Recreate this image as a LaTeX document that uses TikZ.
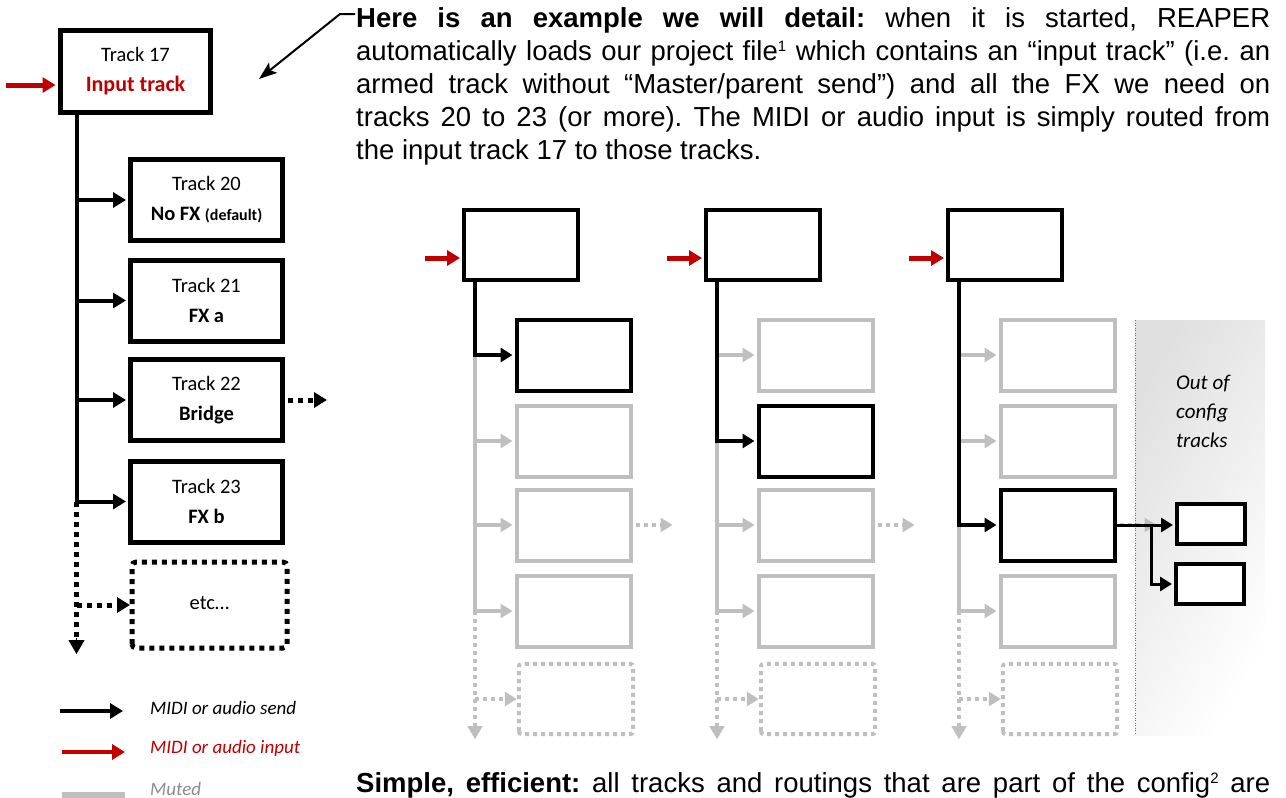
\documentclass[tikz,border=0pt]{standalone}
\usepackage{fontspec}
\setmainfont{Liberation Sans}
\newfontfamily\carl{Carlito}
\usetikzlibrary{arrows.meta}
\definecolor{mygray}{HTML}{BFBFBF}
\definecolor{myred}{HTML}{C00000}
\tikzset{
  bigbox/.style={draw=black, line width=5pt, minimum width=150pt, minimum height=82pt, inner sep=0pt, align=center, fill=white,
    font=\carl\fontsize{20.5}{32}\selectfont},
  cbox/.style={draw=#1, line width=4pt, minimum width=114pt, minimum height=71pt, inner sep=0pt, fill=white},
  sbox/.style={draw=black, line width=4pt, minimum width=68pt, minimum height=40pt, inner sep=0pt, fill=white},
  tipbig/.style={-{Triangle[length=13pt,width=15pt]}},
  tipmid/.style={-{Triangle[length=12pt,width=14pt]}},
  sendline/.style={line width=4pt, tipbig},
  dots/.style={line width=5pt, dash pattern=on 5pt off 5pt},
  gdots/.style={line width=4pt, dash pattern=on 4pt off 4pt, mygray},
  legtext/.style={anchor=west, inner sep=0pt, font=\carl\itshape\fontsize{19}{22}\selectfont},
}
\begin{document}
\frenchspacing
\begin{tikzpicture}[x=1pt,y=-1pt]
\useasboundingbox (0,0) rectangle (1286,798);

% ---------- paragraph top ----------
\node[anchor=base west, inner sep=0pt] (para) at (356,27) {\parbox[t]{914pt}{\frenchspacing\fontsize{27.5}{33}\selectfont
\makebox[914pt][s]{\textbf{Here is an example we will detail:} when it is started, REAPER}\\
\makebox[914pt][s]{automatically loads our project file{\fontsize{15}{15}\selectfont\raisebox{9pt}{1}} which contains an “input track” (i.e. an}\\
\makebox[914pt][s]{armed track without “Master/parent send”) and all the FX we need on}\\
\makebox[914pt][s]{tracks 20 to 23 (or more). The MIDI or audio input is simply routed from}\\
the input track 17 to those tracks.}};

\node[anchor=base west, inner sep=0pt] (simple) at (356,792) {\frenchspacing\fontsize{27.5}{33}\selectfont
\makebox[914pt][s]{\textbf{Simple, efficient:} all tracks and routings that are part of the config{\fontsize{15}{15}\selectfont\raisebox{9pt}{2}} are}};

% ---------- left column ----------
\node[bigbox] (t17) at (135.5,71) {\raisebox{-2pt}{Track 17}\\{\bfseries\color{myred}\fontsize{22}{32}\selectfont Input track}};
\node[bigbox, minimum width=152pt, minimum height=81pt] (t20) at (206.5,200) {\raisebox{-2pt}{Track 20}\\{\bfseries No FX \fontsize{16}{32}\selectfont(default)}};
\node[bigbox, minimum width=152pt, minimum height=81pt] (t21) at (206.5,300.5) {\raisebox{-2pt}{Track 21}\\\textbf{FX a}};
\node[bigbox, minimum width=152pt, minimum height=81pt] (t22) at (206.5,400) {\raisebox{-2pt}{Track 22}\\\textbf{Bridge}};
\node[bigbox, minimum width=152pt, minimum height=81pt] (t23) at (206.5,501.5) {\raisebox{-2pt}{Track 23}\\\textbf{FX b}};
\node[bigbox, draw=none, fill=none, minimum width=150pt, minimum height=81pt] (etc) at (209.5,605) {\raisebox{3pt}{etc…}};
\draw[dots, rounded corners=4pt] (etc.south west) rectangle (etc.north east);

\coordinate (lv) at ([xshift=18.5pt]t17.south west);
\draw[line width=4pt] (lv) -- (lv |- t23.west);
\foreach \n in {t20,t21,t22,t23}
  \draw[sendline] (lv |- \n.west) -- ([xshift=-2pt]\n.west);
\draw[dots] (lv |- t23.west) -- ([yshift=4pt]lv |- etc.south);
\coordinate (lvend) at ([yshift=-6pt]lv |- etc.south);
\draw[line width=1pt, -{Triangle[length=14pt,width=16pt]}] ([yshift=16pt]lvend) -- (lvend);
\draw[dots, tipbig] (lv |- etc.west) -- ([xshift=-2pt]etc.west);
\draw[dots, tipbig] ([xshift=3pt]t22.east) -- ([xshift=42pt]t22.east);

\coordinate (rin) at ([xshift=-52pt,yshift=-14pt]t17.west);
\draw[line width=5pt, myred, tipbig] (rin) -- ([xshift=-2.5pt,yshift=-14pt]t17.west);

% pointer
\coordinate (pa) at (355,14);
\coordinate (pb) at (340,14);
\coordinate (pc) at (259,79);
\draw[line width=2pt, -{Stealth[length=18pt,width=13pt,inset=4pt]}] (pa) -- (pb) -- (pc);

% ---------- legend ----------
\coordinate (l1a) at (60,711); \coordinate (l1b) at (123,711);
\coordinate (l2a) at (62,752); \coordinate (l2b) at (125,752);
\coordinate (l3a) at (62,795); \coordinate (l3b) at (125,795);
\draw[sendline] (l1a) -- (l1b);
\draw[sendline, myred] (l2a) -- (l2b);
\draw[line width=6pt, mygray] (l3a) -- (l3b);
\node[legtext] (lt1) at (150,708) {MIDI or audio send};
\node[legtext, text=myred] (lt2) at (150,748) {MIDI or audio input};
\node[legtext, text=black!45] (lt3) at (150,789) {Muted};

% ---------- out of config area ----------
\shade[left color=black!12, right color=white, shading angle=60] (1135,320) rectangle (1265,735);
\draw[black!55, line width=1pt, dash pattern=on 1pt off 1.5pt] (1135,320) -- (1135,735);
\node[anchor=west, align=left, inner sep=0pt, font=\carl\itshape\fontsize{21}{29}\selectfont] (oot) at (1176,411) {Out of\\config\\tracks};

% ---------- three example columns ----------
\foreach \c/\act in {0/1,1/2,2/3} {
  \pgfmathsetmacro\dx{242*\c}
  \node[cbox=black, minimum width=114pt, minimum height=70pt] (t\c) at (521+\dx,245) {};
  \coordinate (v\c) at ([xshift=13pt]t\c.south west);
  \draw[line width=5pt, myred, tipbig] ([xshift=-37pt,yshift=-13pt]t\c.west) -- ([xshift=-2pt,yshift=-13pt]t\c.west);
  \foreach \k/\yy in {1/355,2/441,3/525,4/611} {
    \ifnum\k=\act\relax
      \node[cbox=black] (b\c-\k) at (573.5+\dx,\yy) {};
    \else
      \node[cbox=mygray] (b\c-\k) at (573.5+\dx,\yy) {};
    \fi
  }
  \node[minimum width=114pt, minimum height=70pt, inner sep=0pt] (e\c) at (576+\dx,699) {};
  \draw[gdots, rounded corners=3pt] (e\c.south west) rectangle (e\c.north east);
  % gray lower trunk
  \draw[line width=4pt, mygray] (v\c |- b\c-\act.west) -- (v\c |- b\c-4.west);
  \draw[gdots] (v\c |- b\c-4.west) -- ([yshift=6pt]v\c |- e\c.south);
  \coordinate (ve\c) at ([yshift=-5pt]v\c |- e\c.south);
  \draw[mygray, line width=1pt, -{Triangle[length=13pt,width=15pt]}] ([yshift=15pt]ve\c) -- (ve\c);
  \draw[gdots, tipmid] (v\c |- e\c.west) -- ([xshift=-2pt]e\c.west);
  \draw[gdots, tipmid] ([xshift=3pt]b\c-3.east) -- ([xshift=40pt]b\c-3.east);
  % gray sends
  \foreach \k in {1,2,3,4} {
    \ifnum\k=\act\relax\else
      \draw[line width=4pt, mygray, tipmid] (v\c |- b\c-\k.west) -- ([xshift=-2pt]b\c-\k.west);
    \fi
  }
  % black active path
  \draw[line width=4pt, tipmid] (v\c) |- ([xshift=-2pt]b\c-\act.west);
}

% column 3 outgoing sends
\node[sbox] (s1) at (1211,524) {};
\node[sbox] (s2) at (1210,584) {};
\coordinate (br) at (1151,0);
\draw[line width=3pt, tipmid] (b2-3.east) -- ([xshift=-2pt]s1.west |- b2-3.east);
\draw[line width=3pt, tipmid] (br |- b2-3.east) |- ([xshift=-2pt]s2.west);
\end{tikzpicture}
\end{document}
